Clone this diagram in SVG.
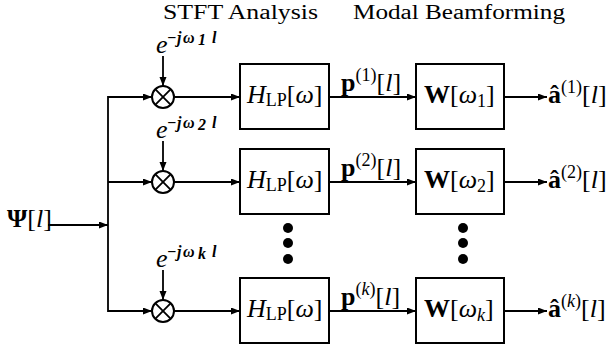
<svg xmlns="http://www.w3.org/2000/svg" width="611" height="351" viewBox="0 0 611 351">
<defs>
<style>
text{font-family:"Liberation Serif","Times New Roman",serif;fill:#000}
.t{font-size:20px}
.m{font-size:26px}
.i{font-style:italic}
.b{font-weight:bold}
.sub{font-size:18px}
.ex{font-size:16px;font-style:italic;font-weight:bold}
.box{fill:#fff;stroke:#000;stroke-width:2}
.ln{fill:none;stroke:#000;stroke-width:1.8}
.arr{fill:none;stroke:#000;stroke-width:1.8;marker-end:url(#ah)}
.dot{fill:#000}
</style>
<marker id="ah" markerUnits="userSpaceOnUse" markerWidth="10" markerHeight="8" refX="9" refY="3.5" orient="auto">
<path d="M0,0 L9,3.5 L0,7 z" fill="#000"/>
</marker>
</defs>
<rect width="611" height="351" fill="#fff"/>

<text class="t" x="163" y="19" textLength="155" lengthAdjust="spacingAndGlyphs">STFT Analysis</text>
<text class="t" x="353" y="19" textLength="212" lengthAdjust="spacingAndGlyphs">Modal Beamforming</text>

<g id="connectors">
<line class="arr" x1="48" y1="225" x2="108" y2="225"/>
<polyline class="ln" points="152,97 108,97 108,311 152,311"/>
<line class="arr" x1="108" y1="97" x2="152" y2="97"/>
<line class="arr" x1="108" y1="182" x2="152" y2="182"/>
<line class="arr" x1="108" y1="311" x2="152" y2="311"/>
<line class="arr" x1="163" y1="56" x2="163" y2="86"/>
<line class="arr" x1="163" y1="141" x2="163" y2="171"/>
<line class="arr" x1="163" y1="270" x2="163" y2="300"/>
<line class="arr" x1="174" y1="97" x2="240" y2="97"/>
<line class="arr" x1="174" y1="182" x2="240" y2="182"/>
<line class="arr" x1="174" y1="311" x2="240" y2="311"/>
<line class="arr" x1="329" y1="97" x2="416" y2="97"/>
<line class="arr" x1="329" y1="182" x2="416" y2="182"/>
<line class="arr" x1="329" y1="311" x2="416" y2="311"/>
<line class="arr" x1="504" y1="97" x2="547" y2="97"/>
<line class="arr" x1="504" y1="182" x2="547" y2="182"/>
<line class="arr" x1="504" y1="311" x2="547" y2="311"/>
</g>

<g id="input">
<text class="m" x="7" y="227"><tspan class="b">Ψ</tspan>[<tspan class="i">l</tspan>]</text>
</g>

<g id="mult1">
<circle class="box" cx="163" cy="97" r="11"/>
<path class="ln" d="M155.2,89.2 L170.8,104.8 M170.8,89.2 L155.2,104.8"/>
<text x="156" y="53"><tspan class="m i" font-size="24">e</tspan><tspan class="ex" x="167" dy="-10">−</tspan><tspan class="ex" x="177">j</tspan><tspan class="ex" x="183">ω</tspan><tspan class="ex" font-size="12" x="198" dy="2">1</tspan><tspan class="ex" x="212" dy="-2">l</tspan></text>
</g>
<g id="mult2">
<circle class="box" cx="163" cy="182" r="11"/>
<path class="ln" d="M155.2,174.2 L170.8,189.8 M170.8,174.2 L155.2,189.8"/>
<text x="156" y="138"><tspan class="m i" font-size="24">e</tspan><tspan class="ex" x="167" dy="-10">−</tspan><tspan class="ex" x="177">j</tspan><tspan class="ex" x="183">ω</tspan><tspan class="ex" font-size="12" x="198" dy="2">2</tspan><tspan class="ex" x="212" dy="-2">l</tspan></text>
</g>
<g id="multk">
<circle class="box" cx="163" cy="311" r="11"/>
<path class="ln" d="M155.2,303.2 L170.8,318.8 M170.8,303.2 L155.2,318.8"/>
<text x="156" y="267"><tspan class="m i" font-size="24">e</tspan><tspan class="ex" x="167" dy="-10">−</tspan><tspan class="ex" x="177">j</tspan><tspan class="ex" x="183">ω</tspan><tspan class="ex" font-size="12" x="198" dy="2">k</tspan><tspan class="ex" x="212" dy="-2">l</tspan></text>
</g>

<g id="H1">
<rect class="box" x="240" y="64" width="89" height="65"/>
<text class="m" x="247" y="103"><tspan class="i">H</tspan><tspan font-size="18" dy="3">LP</tspan><tspan dy="-3">[</tspan><tspan class="i">ω</tspan>]</text>
</g>
<g id="H2">
<rect class="box" x="240" y="149" width="89" height="65"/>
<text class="m" x="247" y="188"><tspan class="i">H</tspan><tspan font-size="18" dy="3">LP</tspan><tspan dy="-3">[</tspan><tspan class="i">ω</tspan>]</text>
</g>
<g id="Hk">
<rect class="box" x="240" y="278" width="89" height="65"/>
<text class="m" x="247" y="317"><tspan class="i">H</tspan><tspan font-size="18" dy="3">LP</tspan><tspan dy="-3">[</tspan><tspan class="i">ω</tspan>]</text>
</g>

<g id="p1"><text class="m" x="341" y="91"><tspan class="b">p</tspan><tspan class="sub" dy="-10">(1)</tspan><tspan dy="10">[</tspan><tspan class="i">l</tspan>]</text></g>
<g id="p2"><text class="m" x="341" y="176"><tspan class="b">p</tspan><tspan class="sub" dy="-10">(2)</tspan><tspan dy="10">[</tspan><tspan class="i">l</tspan>]</text></g>
<g id="pk"><text class="m" x="341" y="305"><tspan class="b">p</tspan><tspan class="sub" dy="-10">(<tspan class="i">k</tspan>)</tspan><tspan dy="10">[</tspan><tspan class="i">l</tspan>]</text></g>

<g id="W1">
<rect class="box" x="416" y="64" width="88" height="65"/>
<text class="m" x="424" y="103"><tspan class="b">W</tspan>[<tspan class="i">ω</tspan><tspan class="sub" dy="4">1</tspan><tspan dy="-4">]</tspan></text>
</g>
<g id="W2">
<rect class="box" x="416" y="149" width="88" height="65"/>
<text class="m" x="424" y="188"><tspan class="b">W</tspan>[<tspan class="i">ω</tspan><tspan class="sub" dy="4">2</tspan><tspan dy="-4">]</tspan></text>
</g>
<g id="Wk">
<rect class="box" x="416" y="278" width="88" height="65"/>
<text class="m" x="424" y="317"><tspan class="b">W</tspan>[<tspan class="i">ω</tspan><tspan class="sub i" dy="4">k</tspan><tspan dy="-4">]</tspan></text>
</g>

<g id="a1"><text class="m" x="548" y="103"><tspan class="b">â</tspan><tspan class="sub" dy="-10">(1)</tspan><tspan dy="10">[</tspan><tspan class="i">l</tspan>]</text></g>
<g id="a2"><text class="m" x="548" y="188"><tspan class="b">â</tspan><tspan class="sub" dy="-10">(2)</tspan><tspan dy="10">[</tspan><tspan class="i">l</tspan>]</text></g>
<g id="ak"><text class="m" x="548" y="317"><tspan class="b">â</tspan><tspan class="sub" dy="-10">(<tspan class="i">k</tspan>)</tspan><tspan dy="10">[</tspan><tspan class="i">l</tspan>]</text></g>

<g id="dotsH">
<circle class="dot" cx="288" cy="228" r="5"/>
<circle class="dot" cx="288" cy="243" r="5"/>
<circle class="dot" cx="288" cy="259" r="5"/>
</g>
<g id="dotsW">
<circle class="dot" cx="463" cy="228" r="5"/>
<circle class="dot" cx="463" cy="243" r="5"/>
<circle class="dot" cx="463" cy="259" r="5"/>
</g>
</svg>
